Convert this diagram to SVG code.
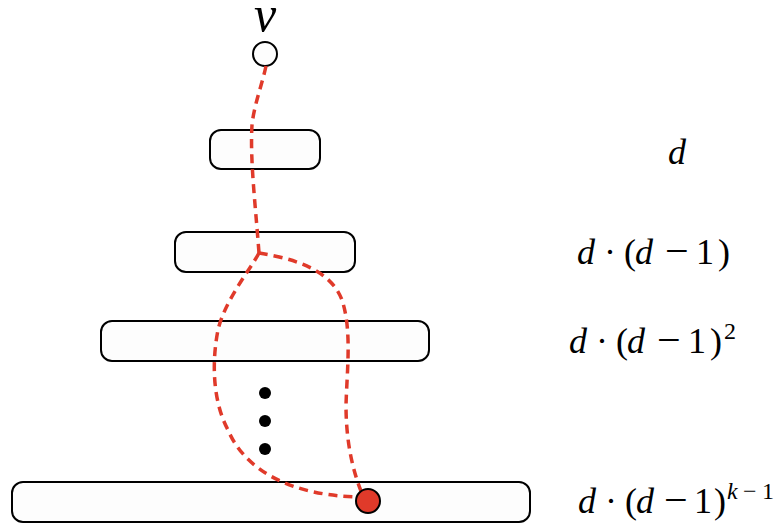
<svg xmlns="http://www.w3.org/2000/svg" width="780" height="525" viewBox="0 0 780 525">
<style>
.box{fill:#fdfdfd;stroke:#000;stroke-width:2}
.lbl{font-family:"Liberation Serif","Times New Roman",serif;font-size:36px;fill:#000}
.it{font-style:italic}
.mn{font-size:42px}
.sup{font-size:24px}
.path{fill:none;stroke:#e03a2a;stroke-width:3.5;stroke-dasharray:9 6}
.dot{fill:#000}
</style>
<rect width="780" height="525" fill="#fff"/>
<g id="node-v">
<circle cx="265" cy="54" r="12" fill="#fdfdfd" stroke="#000" stroke-width="2"/>
<text class="lbl it" x="265" y="31" text-anchor="middle" style="font-size:50px">v</text>
</g>
<g id="level-1">
<rect class="box" x="210" y="130" width="110" height="39" rx="11"/>
<text class="lbl it" x="677" y="164" text-anchor="middle">d</text>
</g>
<g id="level-2">
<rect class="box" x="175" y="232" width="180" height="40" rx="11"/>
<text class="lbl"><tspan class="it" x="577" y="264">d</tspan><tspan x="604" y="264">·</tspan><tspan x="624" y="264">(</tspan><tspan class="it" x="635" y="264">d</tspan><tspan class="mn" x="665" y="265">−</tspan><tspan x="696" y="264">1</tspan><tspan x="718" y="264">)</tspan></text>
</g>
<g id="level-3">
<rect class="box" x="101" y="321" width="328" height="40" rx="11"/>
<text class="lbl"><tspan class="it" x="569" y="353">d</tspan><tspan x="596" y="353">·</tspan><tspan x="616" y="353">(</tspan><tspan class="it" x="627" y="353">d</tspan><tspan class="mn" x="657" y="354">−</tspan><tspan x="688" y="353">1</tspan><tspan x="710" y="353">)</tspan><tspan class="sup" x="724" y="339">2</tspan></text>
</g>
<g id="ellipsis">
<circle class="dot" cx="265" cy="393" r="6"/>
<circle class="dot" cx="265" cy="421" r="6"/>
<circle class="dot" cx="265" cy="449" r="6"/>
</g>
<g id="level-k">
<rect class="box" x="12" y="482" width="518" height="40" rx="11"/>
<text class="lbl"><tspan class="it" x="578" y="513">d</tspan><tspan x="605" y="513">·</tspan><tspan x="625" y="513">(</tspan><tspan class="it" x="636" y="513">d</tspan><tspan class="mn" x="664" y="514">−</tspan><tspan x="694" y="513">1</tspan><tspan x="714" y="513">)</tspan><tspan class="sup it" x="727" y="499">k</tspan><tspan class="sup" x="743" y="499">−</tspan><tspan class="sup" x="762" y="499">1</tspan></text>
</g>
<g id="connectors">
<path class="path" d="M266,66 C262,85 254,105 252,125 C250,160 255,200 259,253"/>
<path class="path" d="M259,253 C290,258 330,268 342,300 C352,330 347,370 346,405 C346,440 352,470 363,496"/>
<path class="path" d="M259,253 C250,270 225,300 218,330 C212,360 212,400 228,430 C245,470 290,495 357,497"/>
</g>
<g id="target">
<circle cx="368" cy="501" r="12" fill="#e03a2a" stroke="#000" stroke-width="2"/>
</g>
</svg>
